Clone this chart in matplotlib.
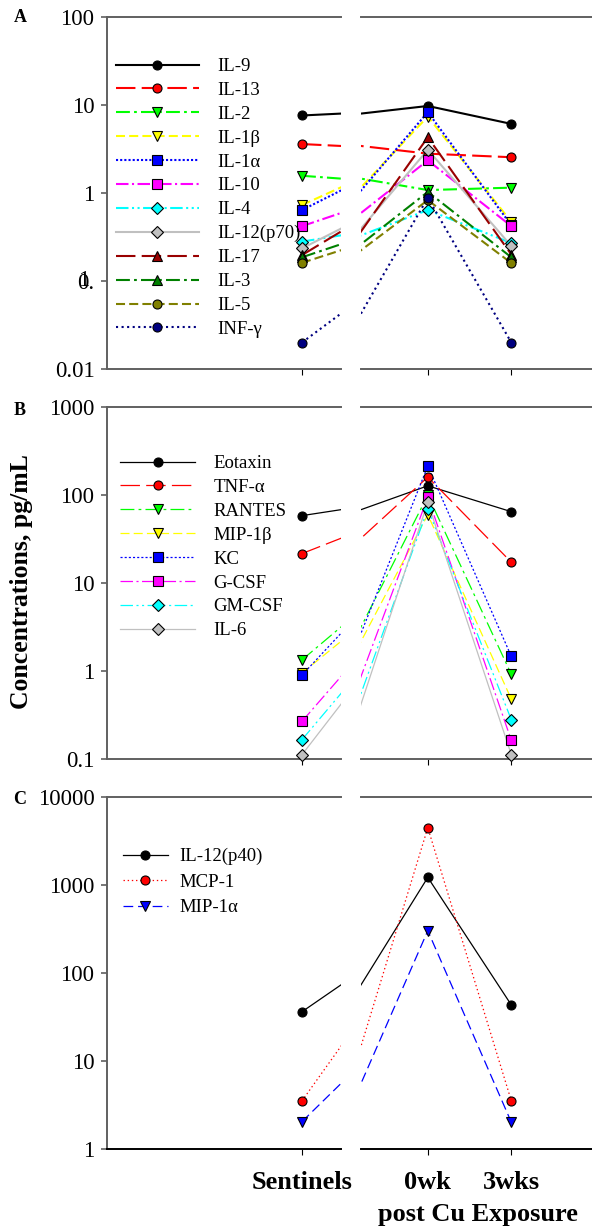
import numpy as np
import matplotlib.pyplot as plt
from matplotlib.lines import Line2D
from matplotlib.ticker import NullLocator, FixedLocator, FixedFormatter

plt.rcParams['font.family'] = ['Liberation Serif', 'DejaVu Serif']
plt.rcParams['lines.scale_dashes'] = False

groups = ['Sentinels', '0wk', '3wks']
xpos = [1, 2, 3]

# panel A, pg/mL
il9 = [7.6, 9.75, 6.1]
il13 = [3.6, 2.8, 2.55]
il2 = [1.57, 1.08, 1.15]
il1b = [0.73, 7.4, 0.47]
il1a = [0.64, 8.3, 0.43]
il10 = [0.42, 2.35, 0.42]
il4 = [0.28, 0.64, 0.27]
il12p70 = [0.235, 3.1, 0.25]
il17 = [0.197, 4.3, 0.2]
il3 = [0.186, 1.03, 0.186]
il5 = [0.161, 0.83, 0.16]
infg = [0.02, 0.885, 0.02]

# panel B
eotaxin = [58.6, 128, 65]
tnfa = [21.7, 161, 17.3]
rantes = [1.34, 100, 0.92]
mip1b = [0.95, 60, 0.48]
kc = [0.9, 215, 1.47]
gcsf = [0.268, 95, 0.163]
gmcsf = [0.166, 70, 0.28]
il6 = [0.112, 83, 0.112]

# panel C
il12p40 = [36, 1210, 43]
mcp1 = [3.5, 4440, 3.5]
mip1a = [2.03, 300, 2.0]

# line styles (points)
solid = '-'
longdash = (0, (14, 4.5))
longshort = (0, (10, 3, 2, 3))
dashed = (0, (6.5, 3))
dotted = (0, (1.5, 1.5))
sparsedot = (0, (1.5, 2.5))
dashdot = (0, (9, 2.5, 1.5, 2.5))
dashdotdot = (0, (9, 2.5, 1.5, 2.5, 1.5, 2.5))

panel_a = [
    ('IL-9', il9, 'black', solid, 'o'),
    ('IL-13', il13, '#ff0000', longdash, 'o'),
    ('IL-2', il2, '#00ff00', longshort, 'v'),
    ('IL-1β', il1b, '#ffff00', dashed, 'v'),
    ('IL-1α', il1a, '#0000ff', dotted, 's'),
    ('IL-10', il10, '#ff00ff', dashdot, 's'),
    ('IL-4', il4, '#00ffff', dashdotdot, 'D'),
    ('IL-12(p70)', il12p70, '#c0c0c0', solid, 'D'),
    ('IL-17', il17, '#990000', longdash, '^'),
    ('IL-3', il3, '#008000', longshort, '^'),
    ('IL-5', il5, '#808000', dashed, 'o'),
    ('INF-γ', infg, '#000080', sparsedot, 'o'),
]
panel_b = [
    ('Eotaxin', eotaxin, 'black', solid, 'o'),
    ('TNF-α', tnfa, '#ff0000', longdash, 'o'),
    ('RANTES', rantes, '#00ff00', longshort, 'v'),
    ('MIP-1β', mip1b, '#ffff00', dashed, 'v'),
    ('KC', kc, '#0000ff', dotted, 's'),
    ('G-CSF', gcsf, '#ff00ff', dashdot, 's'),
    ('GM-CSF', gmcsf, '#00ffff', dashdotdot, 'D'),
    ('IL-6', il6, '#c0c0c0', solid, 'D'),
]
panel_c = [
    ('IL-12(p40)', il12p40, 'black', solid, 'o'),
    ('MCP-1', mcp1, '#ff0000', (0, (1, 2)), 'o'),
    ('MIP-1α', mip1a, '#0000ff', (0, (7, 3.5)), 'v'),
]

W, H = 592, 1229
fig = plt.figure(figsize=(W / 100, H / 100), dpi=100)


def fy(py):
    return 1 - py / H


spine_gray = '#606060'

# (series, top px, bottom px, ylim, ticks, tick labels, linewidth, legend setup)
panels = [
    (panel_a, 17, 369, (0.01, 100), [0.01, 0.1, 1, 10, 100],
     ['0.01', '0.', '1', '10', '100'], 1.5,
     dict(x=116, y=58, hl=4.4, fs=13.5, sp=0.36, tp=1.0)),
    (panel_b, 407.3, 759, (0.1, 1000), [0.1, 1, 10, 100, 1000],
     ['0.1', '1', '10', '100', '1000'], 0.9,
     dict(x=120, y=455, hl=4.0, fs=13.5, sp=0.36, tp=1.0)),
    (panel_c, 796.7, 1148.7, (1, 10000), [1, 10, 100, 1000, 10000],
     ['1', '10', '100', '1000', '10000'], 0.9,
     dict(x=123, y=848, hl=2.4, fs=13.5, sp=0.45, tp=0.6)),
]

for k, (series, top, bot, ylim, yt, ytl, lw, leg) in enumerate(panels):
    h = (bot - top) / H
    axL = fig.add_axes([107 / W, fy(bot), (341 - 107) / W, h])
    axR = fig.add_axes([361 / W, fy(bot), (W - 361) / W, h])
    axL.set_xlim(0, 1.2)
    axR.set_xlim(1.2, 1.2 + (W - 361) / 83.5)
    for ax in (axL, axR):
        ax.set_yscale('log')
        ax.set_ylim(*ylim)
        ax.yaxis.set_minor_locator(NullLocator())
        ax.spines['right'].set_visible(False)
        for s in ('top', 'bottom', 'left'):
            ax.spines[s].set_linewidth(1.4)
            ax.spines[s].set_color(spine_gray)
        if k == 2:
            ax.spines['bottom'].set_color('black')
        ax.tick_params(axis='x', direction='out', length=4, width=0.8,
                       color='black')
        for name, vals, col, ls, mk in series:
            ax.plot(xpos, vals, color=col, linestyle=ls, linewidth=lw,
                    zorder=2)
    axR.spines['left'].set_visible(False)
    axR.tick_params(axis='y', left=False, labelleft=False, which='both')
    axL.yaxis.set_major_locator(FixedLocator(yt))
    axL.yaxis.set_major_formatter(FixedFormatter(ytl))
    axL.tick_params(axis='y', direction='out', length=4, width=1.2,
                    color=spine_gray, labelsize=16.5, pad=5)

    # markers drawn unclipped, each on its own side of the break
    for name, vals, col, ls, mk in series:
        axL.plot(xpos[:1], vals[:1], linestyle='none', marker=mk,
                 markersize=6.5, markerfacecolor=col, markeredgecolor='black',
                 markeredgewidth=0.8, clip_on=False, zorder=3)
        axR.plot(xpos[1:], vals[1:], linestyle='none', marker=mk,
                 markersize=6.5, markerfacecolor=col, markeredgecolor='black',
                 markeredgewidth=0.8, clip_on=False, zorder=3)

    axL.set_xticks([1])
    axR.set_xticks([2, 3])
    if k == 2:
        axL.set_xticklabels(groups[:1], fontsize=19, fontweight='bold')
        axR.set_xticklabels(groups[1:], fontsize=19, fontweight='bold')
        axL.tick_params(axis='x', pad=12)
        axR.tick_params(axis='x', pad=12)
    else:
        axL.set_xticklabels([])
        axR.set_xticklabels([])

    handles = [Line2D([], [], color=col, linestyle=ls, linewidth=lw,
                      marker=mk, markersize=6.5, markerfacecolor=col,
                      markeredgecolor='black', markeredgewidth=0.8)
               for name, vals, col, ls, mk in series]
    labels = [s[0] for s in series]
    axL.legend(handles, labels, loc='upper left',
               bbox_to_anchor=(leg['x'] / W, fy(leg['y'])),
               bbox_transform=fig.transFigure, frameon=False,
               fontsize=leg['fs'], handlelength=leg['hl'],
               handletextpad=leg['tp'], labelspacing=leg['sp'],
               borderpad=0, borderaxespad=0, numpoints=1)

# stray "1" drawn over the 0.1 label of panel A
fig.text(84 / W, fy(281), '1', fontsize=16.5, ha='center', va='center')

for letter, py in (('A', 18), ('B', 410), ('C', 799)):
    fig.text(20 / W, fy(py), letter, fontsize=13, fontweight='bold',
             ha='center', va='center')

fig.text(22 / W, fy(582), 'Concentrations, pg/mL', rotation=90,
         fontsize=18.5, fontweight='bold', ha='center', va='center')
fig.text(478 / W, fy(1215), 'post Cu Exposure', fontsize=19,
         fontweight='bold', ha='center', va='center')

fig.savefig('out.png', dpi=100)
